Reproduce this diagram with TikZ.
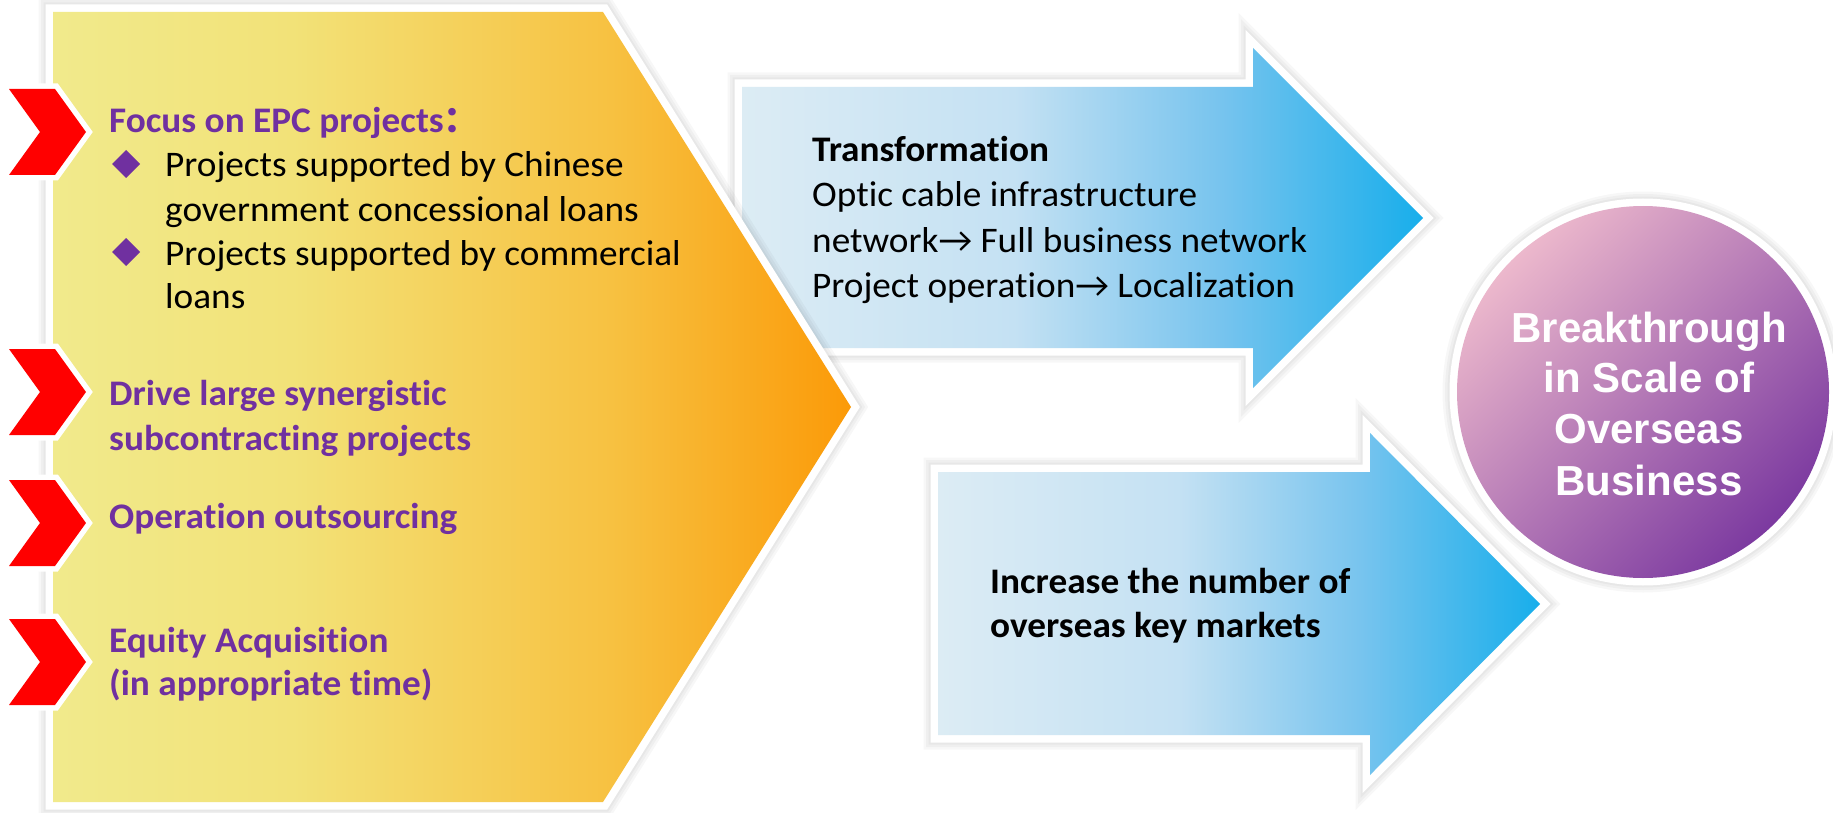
\documentclass[tikz,border=0pt]{standalone}
\usepackage{fontspec}
\setmainfont{Carlito}[FakeStretch=1.035, Ligatures=NoCommon]
\newfontfamily\circfont{Liberation Sans}
\newfontfamily\cjkfont{Noto Sans CJK SC}

\definecolor{txtpurple}{RGB}{112,48,160}
\definecolor{chevA}{RGB}{241,234,140}
\definecolor{chevB}{RGB}{242,226,120}
\definecolor{chevC}{RGB}{247,193,65}
\definecolor{chevD}{RGB}{251,154,8}
\definecolor{blueA}{RGB}{220,236,244}
\definecolor{blueB}{RGB}{196,225,243}
\definecolor{blueC}{RGB}{120,196,238}
\definecolor{blueD}{RGB}{24,174,235}
\definecolor{orbA}{RGB}{236,184,204}
\definecolor{orbB}{RGB}{190,120,182}
\definecolor{orbC}{RGB}{124,58,160}
\definecolor{markred}{RGB}{255,0,0}

% horizontal fills; the path box spans 25bp..75bp
\pgfdeclarehorizontalshading{chevfill}{100bp}{color(0bp)=(chevA); color(25bp)=(chevA); color(40bp)=(chevB); color(60bp)=(chevC); color(75bp)=(chevD); color(100bp)=(chevD)}
\pgfdeclarehorizontalshading{bluefill}{100bp}{color(0bp)=(blueA); color(25bp)=(blueA); color(45bp)=(blueB); color(60bp)=(blueC); color(75bp)=(blueD); color(100bp)=(blueD)}

\tikzset{
  halo/.style={
    preaction={draw=black, draw opacity=0.03, line width=29pt},
    preaction={draw=black, draw opacity=0.03, line width=24pt},
    preaction={draw=black, draw opacity=0.03, line width=19pt},
    preaction={draw=white, line width=15pt}},
  redmark/.style={preaction={draw=white, line width=11pt}, fill=markred},
  purp/.style={anchor=base west, inner sep=0pt, text=txtpurple,
    font=\fontsize{36}{42}\selectfont\bfseries},
  plain/.style={anchor=base west, inner sep=0pt, text=black,
    font=\fontsize{36}{42}\selectfont},
  boldblack/.style={anchor=base west, inner sep=0pt, text=black,
    font=\fontsize{36}{42}\selectfont\bfseries},
  orbtext/.style={anchor=base, inner sep=0pt, text=white,
    font=\circfont\fontsize{42}{48}\selectfont\bfseries},
}

\begin{document}
\begin{tikzpicture}[x=1pt, y=-1pt, line join=miter]
\useasboundingbox (0,0) rectangle (1833,813);
\fill[white] (0,0) rectangle (1833,813);

% blue arrows (behind the big chevron)
\shade[shading=bluefill, halo]
  (742,87) -- (1253,87) -- (1253,48) -- (1423,218) -- (1253,388) -- (1253,348) -- (742,348) -- cycle;
\shade[shading=bluefill, halo]
  (938,472) -- (1370,472) -- (1370,433) -- (1540,604) -- (1370,775) -- (1370,735) -- (938,735) -- cycle;

% big yellow-orange chevron
\shade[shading=chevfill, halo]
  (53,12) -- (603,12) -- (851,407) -- (603,802) -- (53,802) -- cycle;

% red markers
\foreach \cy in {132,392,523,662}{
  \fill[redmark] (9,\cy-43) -- (55,\cy-43) -- (86,\cy) -- (55,\cy+43) -- (9,\cy+43) -- (40,\cy) -- cycle;
}

% bullets
\fill[txtpurple] (126,150) -- (140,164) -- (126,178) -- (112,164) -- cycle;
\fill[txtpurple] (126,238) -- (140,252) -- (126,266) -- (112,252) -- cycle;

% left texts
\node[purp] (epc) at (109,133) {Focus on EPC projects{\cjkfont ：}};
\node[plain] (epcA1) at (165,177) {Projects supported by Chinese};
\node[plain] (epcA2) at (165,222) {government concessional loans};
\node[plain] (epcB1) at (165,265) {Projects supported by commercial};
\node[plain] (epcB2) at (165,308) {loans};
\node[purp] (syn1) at (109,405) {Drive large synergistic};
\node[purp] (syn2) at (109,450) {subcontracting projects};
\node[purp] (outs) at (109,528) {Operation outsourcing};
\node[purp] (eq1) at (109,652) {Equity Acquisition};
\node[purp] (eq2) at (109,695) {(in appropriate time)};

% upper arrow texts
\node[boldblack] (tr0) at (812,162) {Transformation};
\node[plain] (tr1) at (812,207) {Optic cable infrastructure};
\node[plain] (tr2) at (812,252) {network→ Full business network};
\node[plain] (tr3) at (812,297) {Project operation→ Localization};

% lower arrow texts
\node[boldblack] (mk1) at (990,593) {Increase the number of};
\node[boldblack] (mk2) at (990,637) {overseas key markets};

% goal circle
\shade[halo, top color=orbA, middle color=orbB, bottom color=orbC, shading angle=45]
  (1643,392) circle[radius=186];
\node[orbtext] (goal1) at (1649,342) {Breakthrough};
\node[orbtext] (goal2) at (1649,392) {in Scale of};
\node[orbtext] (goal3) at (1649,443) {Overseas};
\node[orbtext] (goal4) at (1649,495) {Business};
\end{tikzpicture}
\end{document}
